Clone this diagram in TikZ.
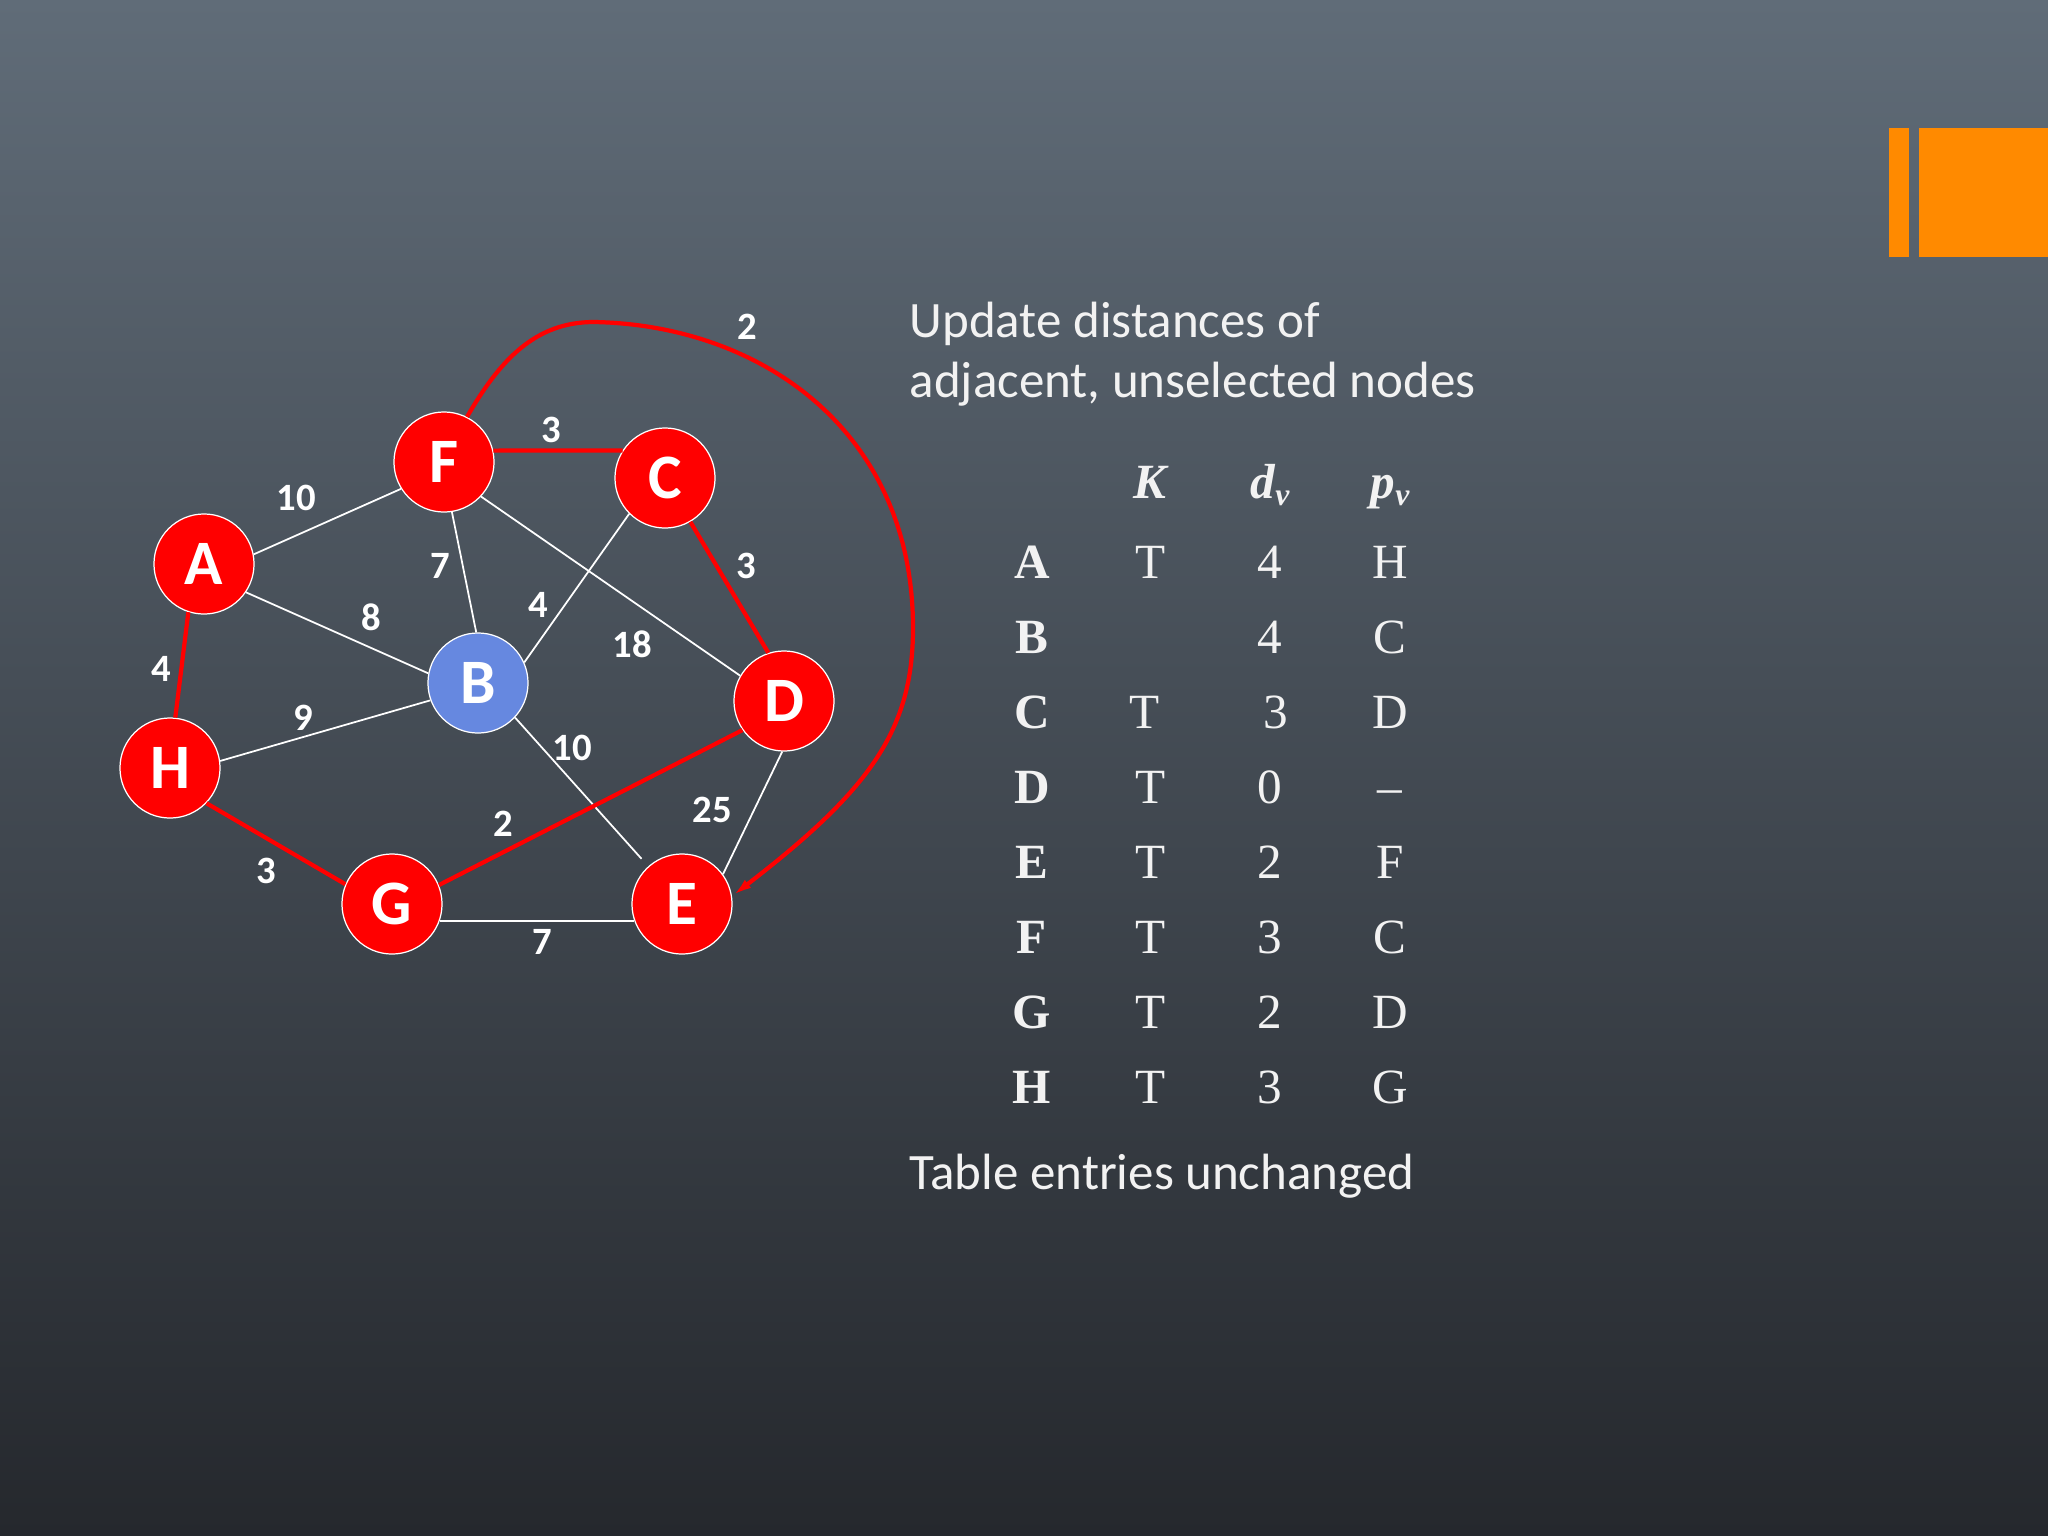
\documentclass[tikz,border=0pt]{standalone}
\usepackage{fontspec}
\setmainfont{Carlito}
\newfontfamily\tablefont{Liberation Serif}
\usetikzlibrary{arrows.meta}
\definecolor{bgtop}{RGB}{96,108,120}
\definecolor{bgbot}{RGB}{37,40,45}
\definecolor{nodered}{RGB}{255,0,0}
\definecolor{nodeblue}{RGB}{102,136,224}
\definecolor{barorange}{RGB}{255,138,0}
\definecolor{txtgray}{RGB}{242,242,242}
\tikzset{
  vertex/.style={circle,draw=white,line width=0.35pt,fill=nodered,minimum size=1cm,
    inner sep=0pt,text=white,font=\fontsize{18}{18}\selectfont\bfseries},
  plain/.style={draw=white,line width=0.5pt},
  tree/.style={draw=nodered,line width=1.2pt},
  wlabel/.style={text=white,font=\fontsize{11}{11}\selectfont\bfseries,inner sep=0pt},
  cell/.style={text=txtgray,font=\tablefont\fontsize{14}{14}\selectfont,inner sep=0pt,anchor=base},
  note/.style={text=txtgray,font=\fontsize{14.5}{17}\selectfont,inner sep=0pt,anchor=base west}
}
\begin{document}
\begin{tikzpicture}[x=0.01cm,y=-0.01cm]
\shade[top color=bgtop,bottom color=bgbot] (0,0) rectangle (2048,1536);
\useasboundingbox (0,0) rectangle (2048,1536);
% orange corner mark
\fill[barorange] (1889,128) rectangle (1909,257);
\fill[barorange] (1919,128) rectangle (2048,257);
% vertices
\node[vertex] (F) at (444,462) {F};
\node[vertex] (C) at (665,478) {C};
\node[vertex] (A) at (204,564) {A};
\node[vertex,fill=nodeblue] (B) at (478,683) {B};
\node[vertex] (D) at (784,701) {D};
\node[vertex] (H) at (170,768) {H};
\node[vertex] (G) at (392,904) {G};
\node[vertex] (E) at (682,904) {E};
% plain edges
\draw[plain] (A.11) -- (F.212);
\draw[plain] (A.-34) -- (B.169);
\draw[plain] (F.-81) -- (B.92);
\draw[plain] (F.-43) -- (D.150);
\draw[plain] (C.225) -- (B.24);
\draw[plain] (H.8) -- (B.200);
\draw[plain,shorten >=0.1cm] (B.-43) -- (E);
\draw[plain] (D.-92) -- (E.36);
\draw[plain] (G.-20) -- (E.200);
% tree edges
\draw[tree] (F.13) -- (C.147);
\draw[tree] (C.-60) -- (D.108);
\draw[tree] (A.-108) -- (H.84);
\draw[tree] (H.-44) -- (G.157);
\draw[tree] (G.22) -- (D.215);
\draw[tree,-{Latex[length=0.2cm,width=0.1cm]}] (F.63)
  .. controls (500,360) and (535,322) .. (594,322)
  .. controls (760,325) and (913,430) .. (913,628)
  .. controls (913,730) and (870,790) .. (E.9);
% weights
\foreach \x/\y/\w [count=\i] in {747/327/2, 551/430/3, 296/498/10, 440/566/7,
  371/617/8, 538/605/4, 632/644/18, 746/566/3, 161/669/4, 303/718/9,
  572/748/10, 503/824/2, 712/810/25, 266/871/3, 542/942/7}
  \node[wlabel] (w\i) at (\x,\y) {\w};
% text
\node[note] (head1) at (909,337) {Update distances of};
\node[note] (head2) at (909,397) {adjacent, unselected nodes};
\node[note] (foot) at (909,1189) {Table entries unchanged};
% table
\node[cell] (hk) at (1151,498) {\textbf{\textit{K}}};
\node[cell] (hd) at (1270,498) {\textbf{\textit{d\raisebox{-0.35ex}{\fontsize{9}{9}\selectfont v}}}};
\node[cell] (hp) at (1390,498) {\textbf{\textit{p\raisebox{-0.35ex}{\fontsize{9}{9}\selectfont v}}}};
\foreach \r/\k/\d/\p/\s [count=\i] in {A/T/4/H/0, B//4/C/0, C/T/3/D/6, D/T/0/\textendash/0,
  E/T/2/F/0, F/T/3/C/0, G/T/2/D/0, H/T/3/G/0} {
  \node[cell] (r\i) at (1032,503+75*\i) {\textbf{\r}};
  \node[cell] (k\i) at (1151-\s,503+75*\i) {\k};
  \node[cell] (d\i) at (1270+\s,503+75*\i) {\d};
  \node[cell] (p\i) at (1390,503+75*\i) {\p};
}
\end{tikzpicture}
\end{document}
